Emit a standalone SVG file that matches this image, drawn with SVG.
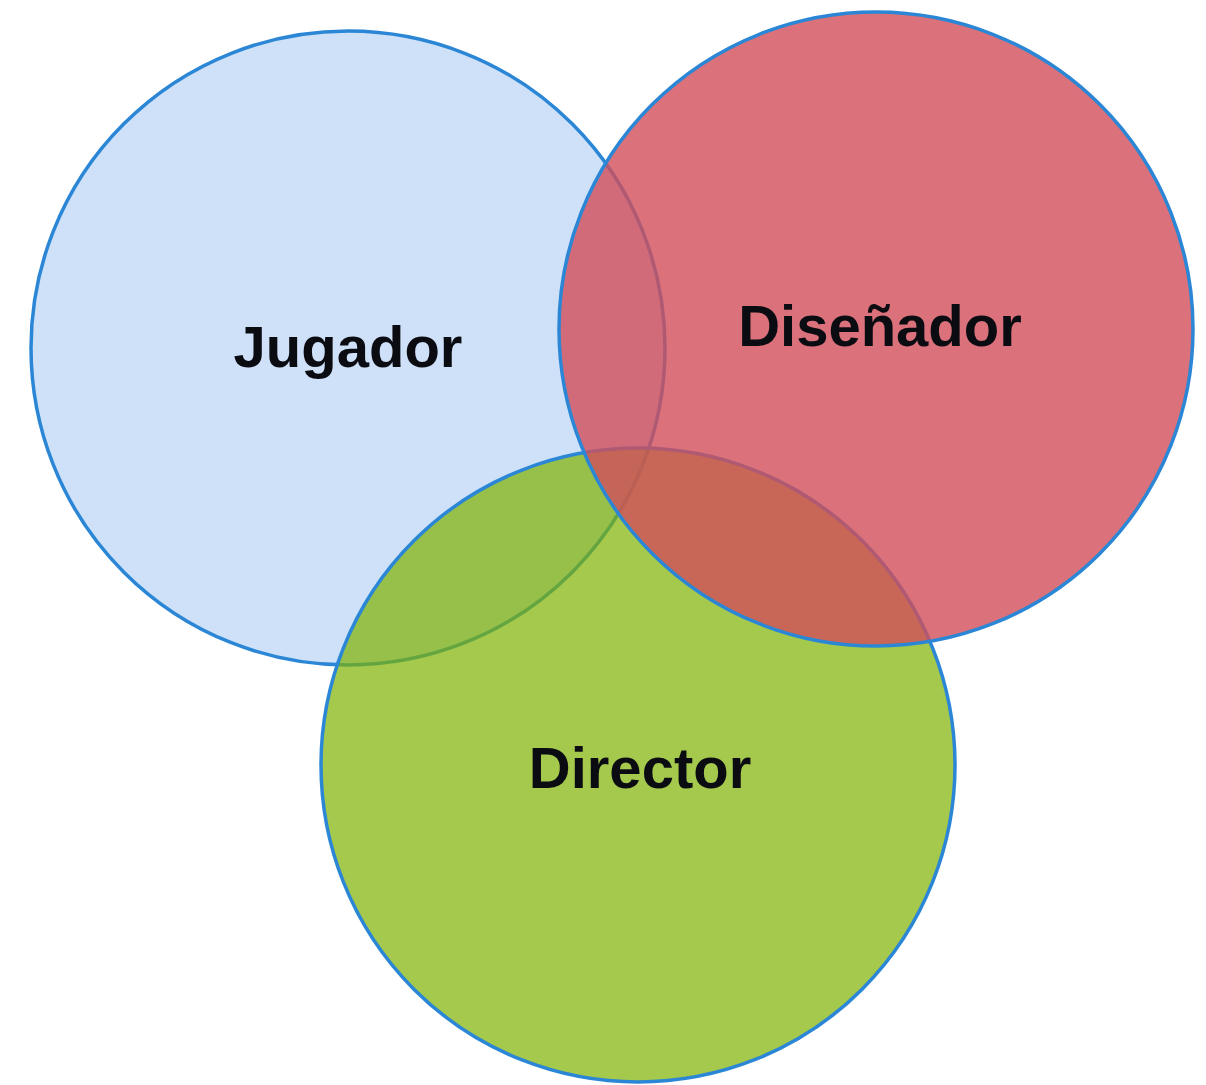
<svg xmlns="http://www.w3.org/2000/svg" width="1206" height="1085" viewBox="0 0 1206 1085">
<style>
.c{stroke:#2b87d6;stroke-width:3.5}
.t{font-family:"Liberation Sans",Arial,sans-serif;font-weight:bold;font-size:58px;fill:#0b0b12;text-anchor:middle}
</style>
<rect width="1206" height="1085" fill="#ffffff"/>
<g id="jugador">
<circle class="c" cx="348" cy="348" r="317" fill="#cfe1f8"/>
<text class="t" x="348" y="367">Jugador</text>
</g>
<g id="director">
<circle class="c" cx="638" cy="765" r="317" fill="#7eb200" fill-opacity="0.7"/>
<text class="t" x="640" y="788">Director</text>
</g>
<g id="disenador">
<circle class="c" cx="876" cy="329" r="317" fill="#d14e5a" fill-opacity="0.8"/>
<text class="t" x="880" y="346">Diseñador</text>
</g>
<g id="connectors"/>
</svg>
